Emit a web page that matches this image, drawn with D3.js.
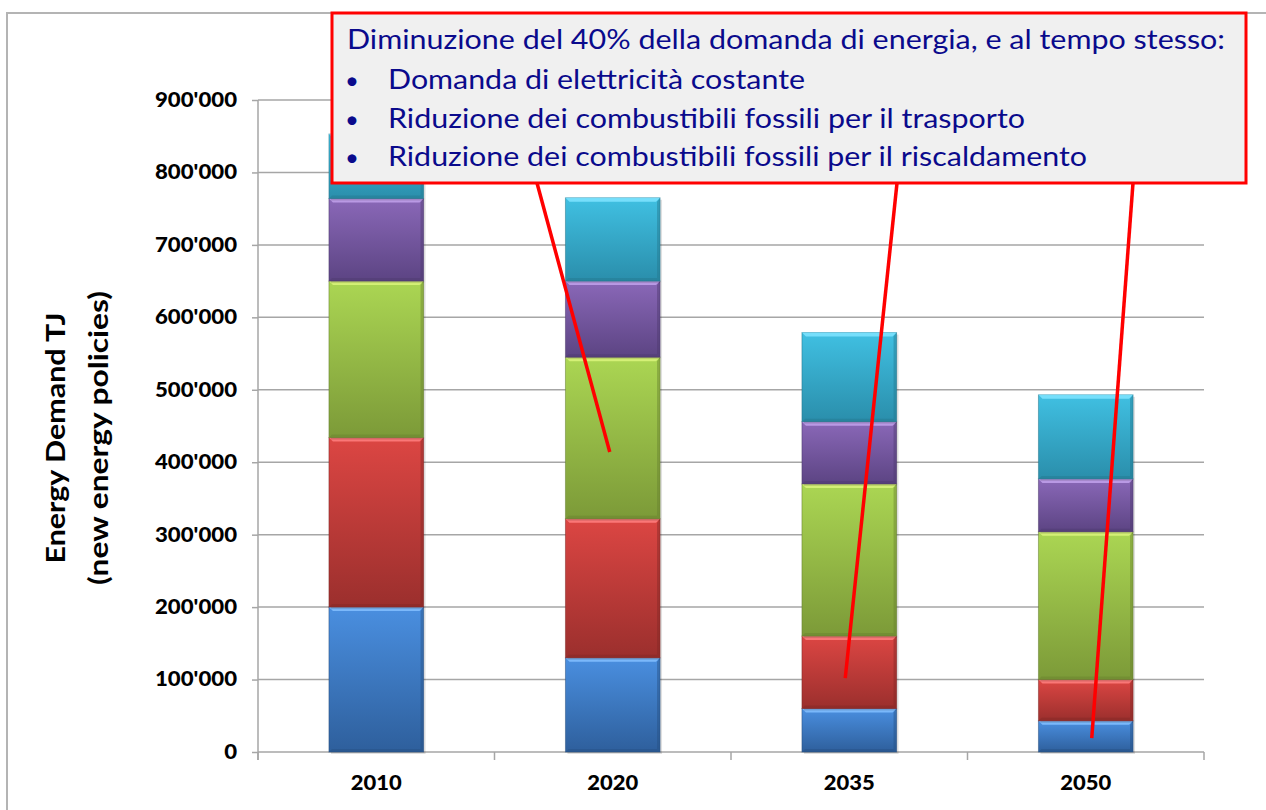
<!DOCTYPE html>
<html>
<head>
<meta charset="utf-8">
<script src="https://cdn.jsdelivr.net/npm/d3@7"></script>
<style>
  body { margin: 0; background: #fff; }
  svg { display: block; }
</style>
</head>
<body>
<svg id="chart"></svg>
<script>
"use strict";

// categories (years)
const years = [ '2010', '2020', '2035', '2050' ];

// stacked segments, bottom to top (TJ)
const segBlue   = [ 200000, 130000,  60000,  43000 ];
const segRed    = [ 234000, 192000, 100000,  57000 ];
const segGreen  = [ 216000, 223000, 210000, 204000 ];
const segPurple = [ 114000, 105000,  86000,  73000 ];
const segCyan   = [  89000, 115000, 123000, 116000 ];

// y ticks
const yTicks = [ 0, 100000, 200000, 300000, 400000, 500000, 600000, 700000, 800000, 900000 ];

// callout text
const calloutTitle   = 'Diminuzione del 40% della domanda di energia, e al tempo stesso:';
const calloutBullets = [
  'Domanda di elettricità costante',
  'Riduzione dei combustibili fossili per il trasporto',
  'Riduzione dei combustibili fossili per il riscaldamento'
];

// callout pointer tips (year, value)
const pointerYears  = [ '2020', '2035', '2050' ];
const pointerValues = [ 414000, 102000, 19000 ];

const W = 1266, H = 810;
const svg = d3.select( '#chart' )
              .attr( 'width', W )
              .attr( 'height', H )
              .style( 'font-family', 'Lato, "Open Sans", sans-serif' );

// plot area
const plot = { left: 258, right: 1204, top: 100, bottom: 752 };

// outer frame
svg.append( 'path' )
   .attr( 'd', `M 7,${H + 5} L 7,13 L ${W + 5},13` )
   .attr( 'fill', 'none' )
   .attr( 'stroke', '#b4b4b4' )
   .attr( 'stroke-width', 2 );

// scales
const x = d3.scaleBand()
            .domain( years )
            .range( [ plot.left, plot.right ] )
            .paddingInner( 0.6 )
            .paddingOuter( 0.3 );

const y = d3.scaleLinear()
            .domain( [ 0, 900000 ] )
            .range( [ plot.bottom, plot.top ] );

// gridlines
svg.append( 'g' )
   .attr( 'class', 'grid' )
 .selectAll( 'line' )
   .data( yTicks.slice( 1 ) )
 .enter().append( 'line' )
   .attr( 'x1', plot.left )
   .attr( 'x2', plot.right )
   .attr( 'y1', d => y( d ) )
   .attr( 'y2', d => y( d ) )
   .attr( 'stroke', '#a6a6a6' )
   .attr( 'stroke-width', 1.5 );

// y axis
const fmt = d => d3.format( ',' )( d ).replace( /,/g, "'" );
const yAxis = svg.append( 'g' )
   .attr( 'transform', `translate(${plot.left},0)` )
   .call( d3.axisLeft( y ).tickValues( yTicks ).tickFormat( fmt ).tickSize( 6 ).tickPadding( 15 ) );
yAxis.select( '.domain' ).remove();
yAxis.append( 'line' )
     .attr( 'y1', plot.top ).attr( 'y2', plot.bottom + 8 )
     .attr( 'stroke', '#a6a6a6' ).attr( 'stroke-width', 1.5 );
yAxis.selectAll( '.tick line' ).attr( 'stroke', '#a6a6a6' ).attr( 'stroke-width', 1.5 );
yAxis.selectAll( 'text' )
     .attr( 'fill', '#000' )
     .style( 'font-family', 'Lato, sans-serif' )
     .style( 'font-size', '20px' )
     .style( 'font-weight', '900' );
// stretch tick labels to match the wide digits of the reference
{
  const ref = yAxis.selectAll( 'text' ).filter( d => d === 900000 ).node(),
        k   = 82 / ref.getComputedTextLength();
  yAxis.selectAll( 'text' ).each( function(){
    d3.select( this )
      .attr( 'textLength', this.getComputedTextLength() * k )
      .attr( 'lengthAdjust', 'spacingAndGlyphs' );
  });
}

// x axis
svg.append( 'line' )
   .attr( 'x1', plot.left ).attr( 'x2', plot.right )
   .attr( 'y1', plot.bottom ).attr( 'y2', plot.bottom )
   .attr( 'stroke', '#a6a6a6' ).attr( 'stroke-width', 1.5 );
svg.append( 'g' )
 .selectAll( 'line' )
   .data( d3.range( years.length + 1 ) )
 .enter().append( 'line' )
   .attr( 'x1', i => plot.left + i * ( plot.right - plot.left ) / years.length )
   .attr( 'x2', i => plot.left + i * ( plot.right - plot.left ) / years.length )
   .attr( 'y1', plot.bottom ).attr( 'y2', plot.bottom + 8 )
   .attr( 'stroke', '#a6a6a6' ).attr( 'stroke-width', 1.5 );
svg.append( 'g' )
 .selectAll( 'text' )
   .data( years )
 .enter().append( 'text' )
   .attr( 'x', d => x( d ) + x.bandwidth() / 2 )
   .attr( 'y', 790 )
   .attr( 'text-anchor', 'middle' )
   .style( 'font-size', '21px' )
   .style( 'font-weight', '900' )
   .attr( 'textLength', 51 )
   .attr( 'lengthAdjust', 'spacingAndGlyphs' )
   .text( d => d );

// y title
const title = svg.append( 'g' )
   .attr( 'transform', 'translate(0,438) rotate(-90)' )
   .style( 'font-weight', 'bold' )
   .style( 'font-size', '27px' )
   .attr( 'text-anchor', 'middle' );
title.append( 'text' ).attr( 'x', 0 ).attr( 'y', 65 )
     .attr( 'textLength', 251 ).attr( 'lengthAdjust', 'spacingAndGlyphs' )
     .text( 'Energy Demand TJ' );
title.append( 'text' ).attr( 'x', 0 ).attr( 'y', 108 )
     .attr( 'textLength', 294 ).attr( 'lengthAdjust', 'spacingAndGlyphs' )
     .text( '(new energy policies)' );

// bar colours: [top, bottom, highlight]
const palette = [
  [ '#4a8fe0', '#2e5f9c', '#84c0ff' ],
  [ '#dc4643', '#9b2f2d', '#ff8080' ],
  [ '#abd653', '#7c9a38', '#dcf57c' ],
  [ '#8a68b8', '#5c4483', '#c2a2ec' ],
  [ '#40c0e2', '#2a8eab', '#80e4ff' ]
];

const defs = svg.append( 'defs' );
palette.forEach( (c, i) => {
  const g = defs.append( 'linearGradient' )
                .attr( 'id', 'g' + i )
                .attr( 'x1', 0 ).attr( 'y1', 0 ).attr( 'x2', 0 ).attr( 'y2', 1 );
  g.append( 'stop' ).attr( 'offset', 0 ).attr( 'stop-color', c[0] );
  g.append( 'stop' ).attr( 'offset', 1 ).attr( 'stop-color', c[1] );
});

// stack the segments
const series = [ segBlue, segRed, segGreen, segPurple, segCyan ];
const rows = years.map( (yr, j) => {
  const r = { year: yr };
  series.forEach( (s, i) => r[ 's' + i ] = s[ j ] );
  return r;
});
const stack = d3.stack().keys( series.map( (s, i) => 's' + i ) )( rows );

const bw = x.bandwidth();
const layers = svg.append( 'g' )
                  .attr( 'class', 'bars' )
                .selectAll( 'g' )
                  .data( stack )
                .enter().append( 'g' );

const segs = layers.selectAll( 'g' )
    .data( (d, i) => d.map( e => ( { i: i, year: e.data.year, y0: e[0], y1: e[1] } ) ) )
  .enter().append( 'g' );

// soft shadow
segs.append( 'rect' )
    .attr( 'x', d => x( d.year ) + 2 )
    .attr( 'y', d => y( d.y1 ) + 2 )
    .attr( 'width', bw )
    .attr( 'height', d => y( d.y0 ) - y( d.y1 ) )
    .attr( 'fill', 'rgba(0,0,0,0.12)' );

// body
segs.append( 'rect' )
    .attr( 'x', d => x( d.year ) )
    .attr( 'y', d => y( d.y1 ) )
    .attr( 'width', bw )
    .attr( 'height', d => y( d.y0 ) - y( d.y1 ) )
    .attr( 'fill', d => `url(#g${d.i})` )
    .attr( 'stroke', d => d3.color( palette[ d.i ][1] ).darker( 0.6 ) )
    .attr( 'stroke-opacity', 0.5 )
    .attr( 'stroke-width', 1 );

// bevel highlight on top edge
segs.append( 'path' )
    .attr( 'd', d => {
      const x0 = x( d.year ), x1 = x0 + bw, t = y( d.y1 );
      return `M ${x0},${t} L ${x1},${t} L ${x1 - 4},${t + 4} L ${x0 + 4},${t + 4} Z`;
    })
    .attr( 'fill', d => palette[ d.i ][2] )
    .attr( 'opacity', 0.85 );

// bevel dark lower edge and sides
segs.append( 'path' )
    .attr( 'd', d => {
      const x0 = x( d.year ), x1 = x0 + bw, t = y( d.y1 ), b = y( d.y0 );
      return `M ${x0},${b} L ${x1},${b} L ${x1},${t} L ${x1 - 3},${t + 4} L ${x1 - 3},${b - 3} L ${x0 + 3},${b - 3} Z`;
    })
    .attr( 'fill', d => d3.color( palette[ d.i ][1] ).darker( 0.5 ) )
    .attr( 'opacity', 0.45 );

// callout box
const box = { x: 332, y: 13, w: 914, h: 170 };
const callout = svg.append( 'g' ).attr( 'class', 'callout' );
callout.append( 'rect' )
       .attr( 'x', box.x ).attr( 'y', box.y )
       .attr( 'width', box.w ).attr( 'height', box.h )
       .attr( 'fill', '#f0f0f0' )
       .attr( 'stroke', '#ff0000' )
       .attr( 'stroke-width', 3 );

const textColor = '#0a0a8c';
callout.append( 'text' )
       .attr( 'x', 347 ).attr( 'y', 49 )
       .attr( 'fill', textColor )
       .style( 'font-size', '27px' )
       .attr( 'textLength', 878 ).attr( 'lengthAdjust', 'spacingAndGlyphs' )
       .text( calloutTitle );

const bulletWidths = [ 417, 637, 699 ];
calloutBullets.forEach( (t, i) => {
  const by = 89 + i * 38.5;
  callout.append( 'text' )
         .attr( 'x', 352 ).attr( 'y', by )
         .attr( 'text-anchor', 'middle' )
         .attr( 'fill', textColor )
         .style( 'font-size', '24px' )
         .text( '•' );
  callout.append( 'text' )
         .attr( 'x', 388 ).attr( 'y', by )
         .attr( 'fill', textColor )
         .style( 'font-size', '27px' )
         .attr( 'textLength', bulletWidths[ i ] ).attr( 'lengthAdjust', 'spacingAndGlyphs' )
         .text( t );
});

// pointer lines from the box to the bars
const pointerStartX  = [ 537, 897, 1133 ];
const pointerOffsetX = [ -3, -4, 6 ];
svg.append( 'g' )
 .selectAll( 'line' )
   .data( pointerYears )
 .enter().append( 'line' )
   .attr( 'x1', (d, i) => pointerStartX[ i ] )
   .attr( 'y1', box.y + box.h )
   .attr( 'x2', (d, i) => x( d ) + bw / 2 + pointerOffsetX[ i ] )
   .attr( 'y2', (d, i) => y( pointerValues[ i ] ) )
   .attr( 'stroke', '#ff0000' )
   .attr( 'stroke-width', 3.5 );
</script>
</body>
</html>
